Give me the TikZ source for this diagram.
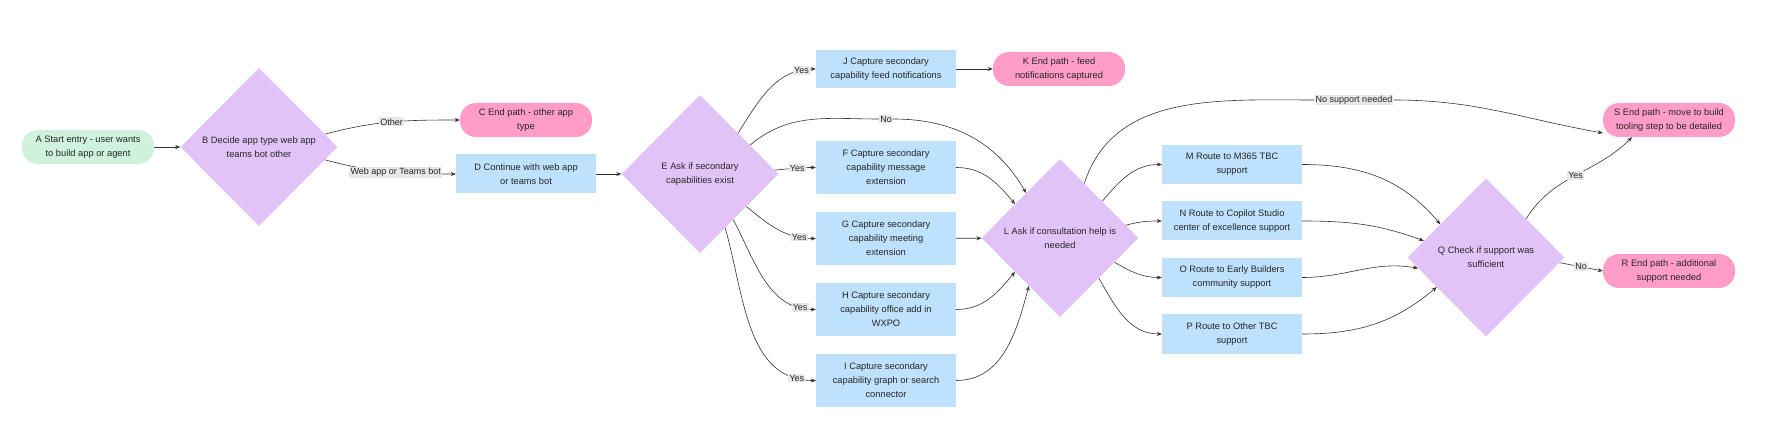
\documentclass[tikz,border=0pt]{standalone}
\usepackage{fontspec}
\setmainfont{Liberation Sans}
\usetikzlibrary{shapes.geometric,arrows.meta}
\definecolor{cgreen}{HTML}{CFF2DC}
\definecolor{cdia}{HTML}{E2C3F8}
\definecolor{cbox}{HTML}{BEE1FD}
\definecolor{cpink}{HTML}{FF9DC8}
\definecolor{clbl}{HTML}{E8E8E8}
\definecolor{cline}{HTML}{333333}
\begin{document}
\begin{tikzpicture}[x=1pt,y=-1pt,
  every node/.style={font=\fontsize{9.3}{14}\selectfont, text=black!85, align=center},
  pill/.style={rectangle, rounded corners=16pt, minimum width=132pt, minimum height=34pt, inner sep=0pt},
  start/.style={pill, fill=cgreen},
  fin/.style={pill, fill=cpink},
  box/.style={rectangle, fill=cbox, minimum width=140pt, inner sep=0pt},
  dia/.style={diamond, fill=cdia, minimum width=157pt, minimum height=158pt, inner sep=0pt},
  lbl/.style={fill=clbl, inner sep=1.2pt, font=\fontsize{9}{10}\selectfont},
  arr/.style={draw=cline, line width=0.6pt, -{Stealth[length=5pt,width=4pt]}},
  ln/.style={draw=cline, line width=0.6pt}]
\useasboundingbox (0,0) rectangle (1786,446);
\node[start] (A) at (88,147) {A Start entry - user wants\\to build app or agent};
\node[dia] (B) at (259,147) {B Decide app type web app\\teams bot other};
\node[fin] (C) at (526,120) {C End path - other app\\type};
\node[box, minimum height=39pt] (D) at (526,174) {D Continue with web app\\or teams bot};
\node[dia] (E) at (700,174) {E Ask if secondary\\capabilities exist};
\node[box, minimum height=38pt] (J) at (886,69) {J Capture secondary\\capability feed notifications};
\node[box, minimum height=53pt] (F) at (886,167.5) {F Capture secondary\\capability message\\extension};
\node[box, minimum height=53pt] (G) at (886,238.5) {G Capture secondary\\capability meeting\\extension};
\node[box, minimum height=53pt] (H) at (886,309.5) {H Capture secondary\\capability office add in\\WXPO};
\node[box, minimum height=53pt] (I) at (886,380.5) {I Capture secondary\\capability graph or search\\connector};
\node[fin] (K) at (1059,69) {K End path - feed\\notifications captured};
\node[dia] (L) at (1060,238) {L Ask if consultation help is\\needed};
\node[box, minimum height=39pt] (M) at (1232,164.5) {M Route to M365 TBC\\support};
\node[box, minimum height=39pt] (N) at (1232,221) {N Route to Copilot Studio\\center of excellence support};
\node[box, minimum height=39pt] (O) at (1232,277.5) {O Route to Early Builders\\community support};
\node[box, minimum height=39pt] (P) at (1232,334) {P Route to Other TBC\\support};
\node[dia] (Q) at (1486,257.5) {Q Check if support was\\sufficient};
\node[fin] (S) at (1669,120) {S End path - move to build\\tooling step to be detailed};
\node[fin] (R) at (1669,271) {R End path - additional\\support needed};

\draw[arr] (A) -- (B);
\draw[arr] (B.11) to[out=15,in=180] node[lbl,pos=0.5]{Other} (C.west);
\draw[arr] (B.-11) to[out=-15,in=180] node[lbl,pos=0.55]{Web app or Teams bot} (D.west);
\draw[arr] (D) -- (E);
\draw[arr] (E.47) to[out=58,in=180] node[lbl,pos=0.87]{Yes} (J.west);
\draw[arr] (E.3) to[out=5,in=180] node[lbl,pos=0.55]{Yes} (F.west);
\draw[arr] (E.-35) to[out=-40,in=180] node[lbl,pos=0.8]{Yes} (G.west);
\draw[arr] (E.-54) to[out=-62,in=180] node[lbl,pos=0.88]{Yes} (H.west);
\draw[arr] (E.-65) to[out=-74,in=180] node[lbl,pos=0.9]{Yes} (I.west);
\node[lbl] (noE) at (886,119) {No};
\draw[ln] (E.30) to[out=40,in=180] (noE.west);
\draw[arr] (noE.east) to[out=0,in=120] (L.127);
\draw[arr] (J) -- (K);
\draw[arr] (F.east) to[out=0,in=130] (L.143);
\draw[arr] (G) -- (L);
\draw[arr] (H.east) to[out=0,in=-130] (L.-143);
\draw[arr] (I.east) to[out=0,in=-105] (L.-123);
\draw[arr] (L.41) to[out=50,in=180] (M.west);
\draw[arr] (L.11) to[out=15,in=180] (N.west);
\draw[arr] (L.-24) to[out=-30,in=180] (O.west);
\draw[arr] (L.-46) to[out=-60,in=180] (P.west);
\node[lbl] (ns) at (1354,100) {No support needed};
\draw[ln] (L.66) to[out=72,in=180] (ns.west);
\draw[arr] (ns.east) to[out=0,in=170] ([yshift=-13pt]S.west);
\draw[arr] (M.east) to[out=0,in=130] (Q.144);
\draw[arr] (N.east) to[out=0,in=160] (Q.165);
\draw[arr] (O.east) to[out=0,in=170] (Q.-171);
\draw[arr] (P.east) to[out=0,in=-140] (Q.-149);
\draw[arr] (Q.44) to[out=58,in=-135] node[lbl,pos=0.5]{Yes} ([xshift=-37pt]S.south);
\draw[arr] (Q.-4) -- node[lbl]{No} (R.west);
\end{tikzpicture}
\end{document}
